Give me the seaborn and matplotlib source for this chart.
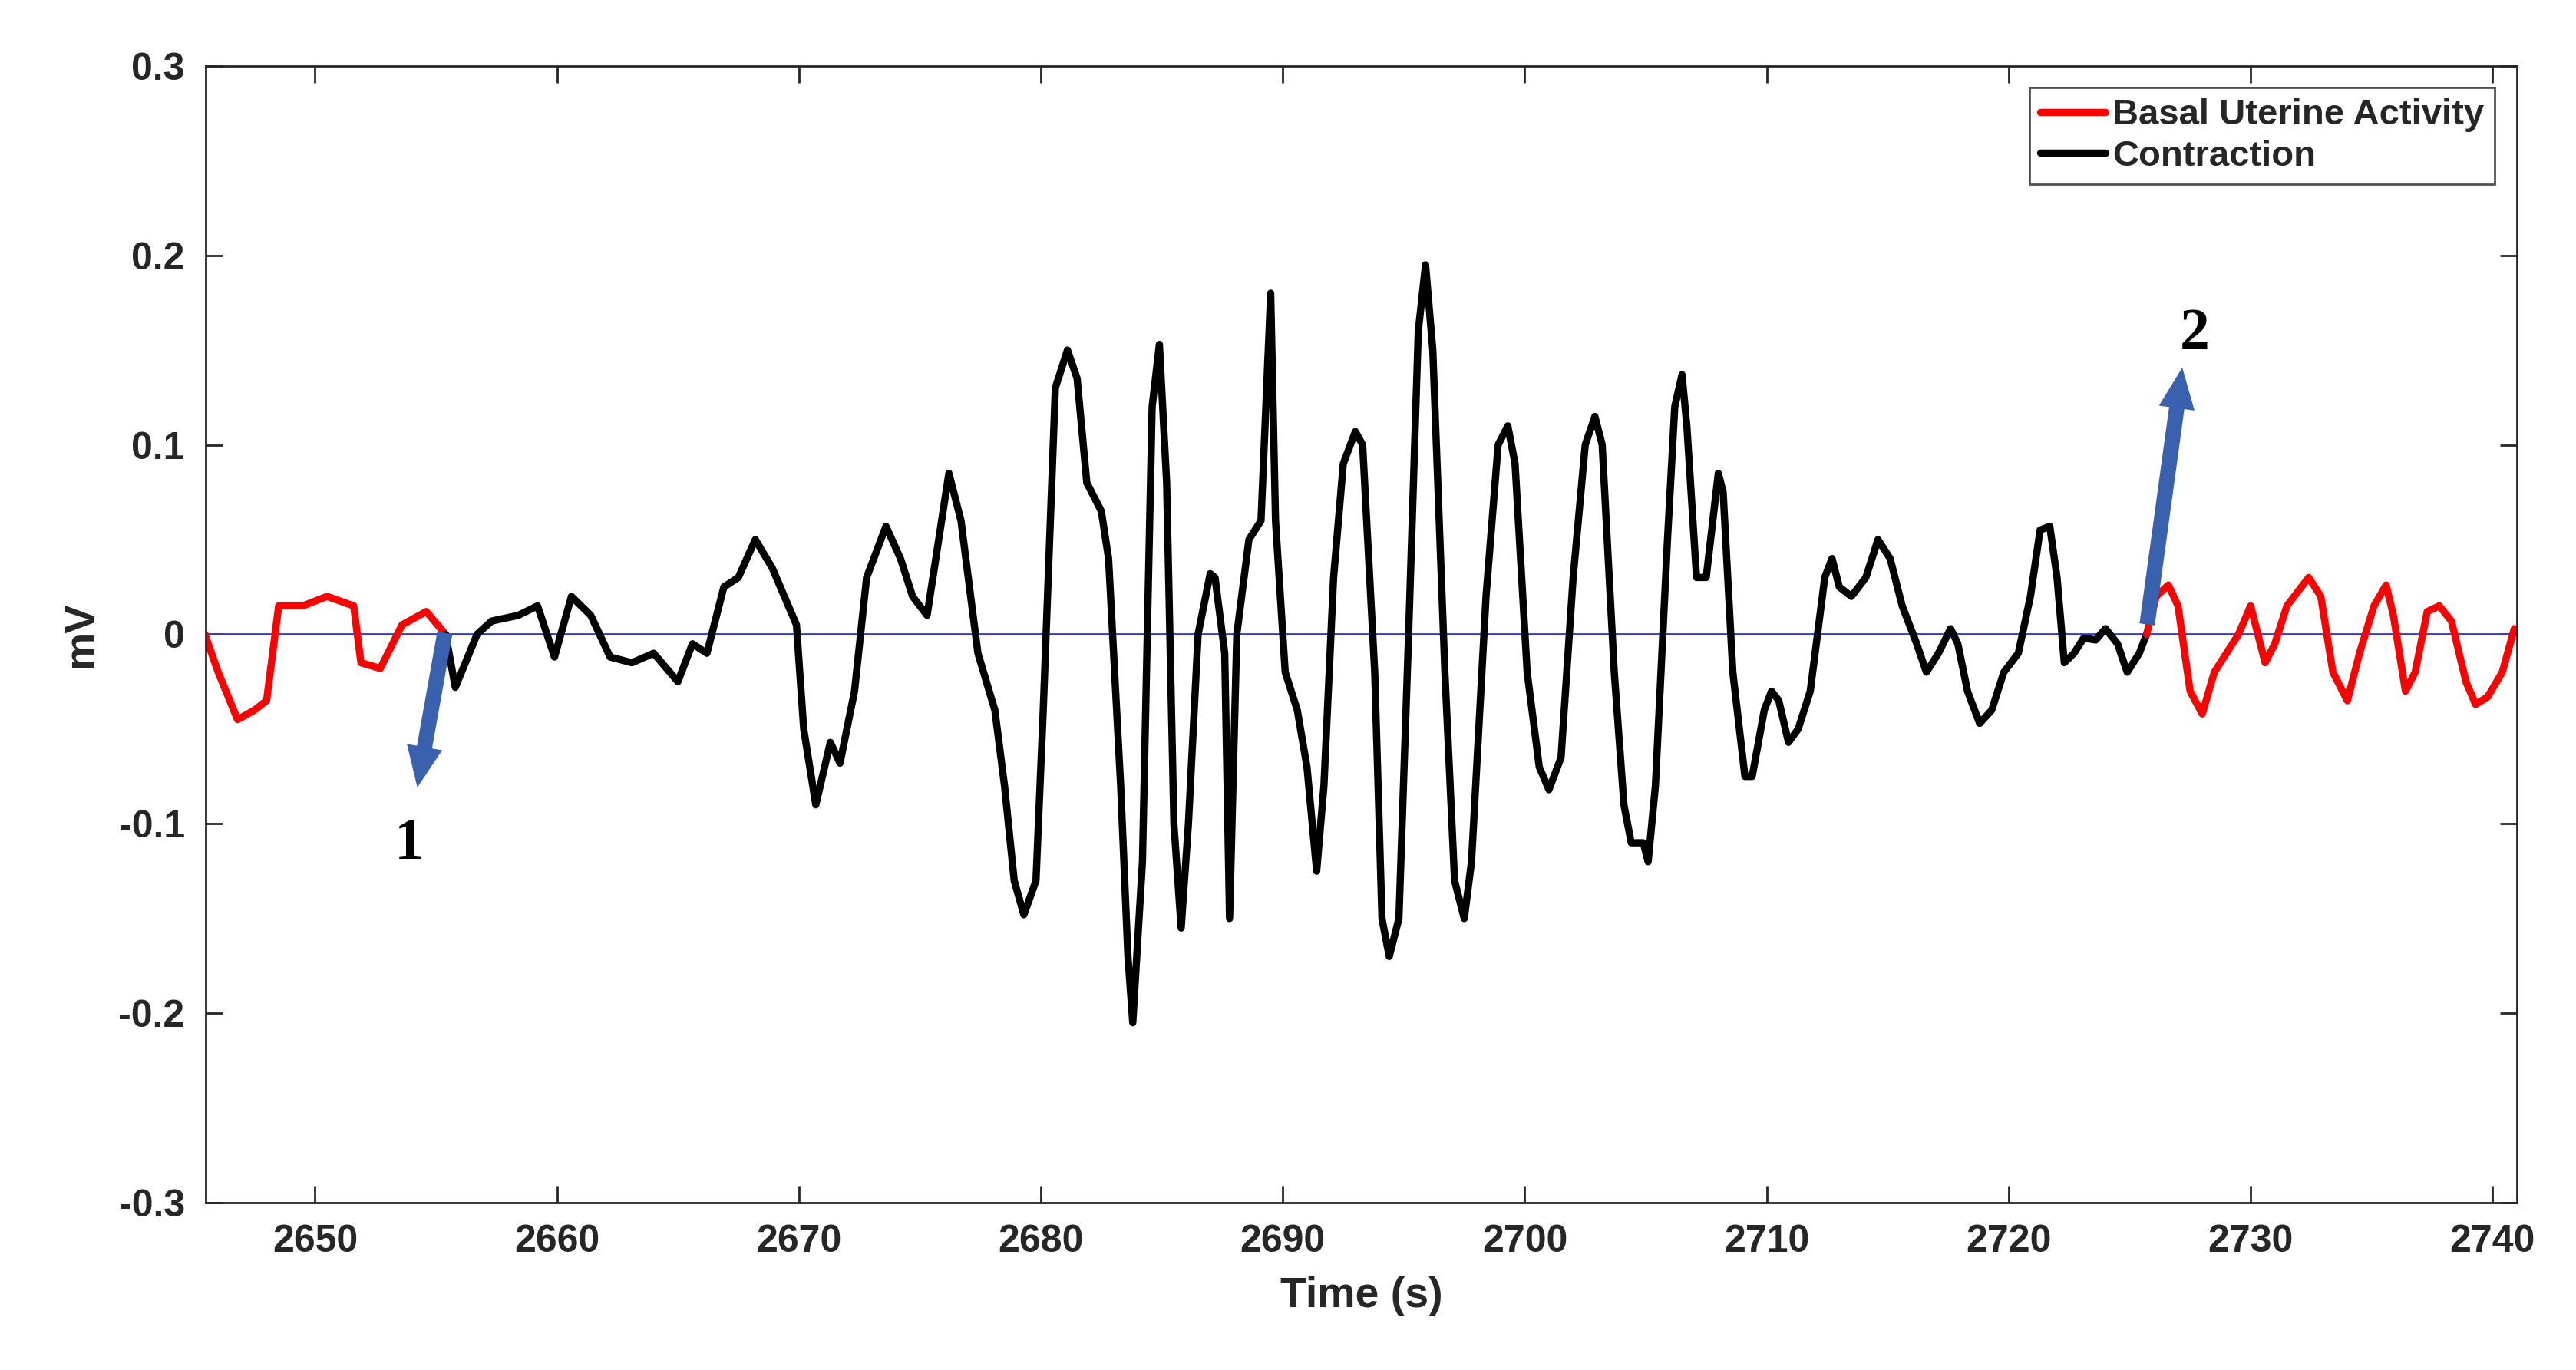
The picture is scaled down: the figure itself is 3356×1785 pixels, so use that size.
import matplotlib
matplotlib.use("Agg")
import matplotlib.pyplot as plt
import seaborn as sns
import pandas as pd

red1_t = [2645.45, 2646.0, 2646.8, 2647.5, 2648.0, 2648.5, 2649.5, 2650.5, 2651.6, 2651.9, 2652.7, 2653.6, 2654.6, 2655.4]
red1_v = [0.0, -0.02, -0.045, -0.04, -0.035, 0.015, 0.015, 0.02, 0.015, -0.015, -0.018, 0.005, 0.012, 0.0]

blk_t = [2655.4, 2655.8, 2656.7, 2657.3, 2658.4, 2659.2, 2659.9, 2660.6, 2661.4, 2662.2, 2663.1, 2664.0, 2665.0, 2665.6,
         2666.2, 2666.9, 2667.5, 2668.2, 2668.9, 2669.9, 2670.2, 2670.7, 2671.3, 2671.7, 2672.3, 2672.8, 2673.6, 2674.2,
         2674.7, 2675.3, 2676.2, 2676.7, 2677.4, 2678.1, 2678.5, 2678.9, 2679.3, 2679.8, 2680.1, 2680.6, 2681.1, 2681.5,
         2681.9, 2682.5, 2682.8, 2683.3, 2683.6, 2683.8, 2684.2, 2684.6, 2684.9, 2685.2, 2685.5, 2685.8, 2686.1, 2686.5,
         2687.0, 2687.2, 2687.6, 2687.8, 2688.1, 2688.6, 2689.1, 2689.5, 2689.7, 2690.1, 2690.6, 2691.0, 2691.4, 2691.7,
         2692.1, 2692.5, 2693.0, 2693.3, 2693.8, 2694.1, 2694.4, 2694.8, 2695.2, 2695.6, 2695.9, 2696.2, 2696.7, 2697.1,
         2697.5, 2697.8, 2698.4, 2698.9, 2699.3, 2699.6, 2700.1, 2700.6, 2701.0, 2701.5, 2702.0, 2702.5, 2702.9, 2703.2,
         2703.7, 2704.1, 2704.4, 2704.9, 2705.1, 2705.4, 2705.9, 2706.2, 2706.5, 2706.7, 2707.1, 2707.5, 2708.0, 2708.2,
         2708.6, 2709.1, 2709.4, 2709.9, 2710.2, 2710.5, 2710.9, 2711.3, 2711.8, 2712.4, 2712.7, 2713.0, 2713.5, 2714.1,
         2714.6, 2715.1, 2715.6, 2716.2, 2716.6, 2717.1, 2717.6, 2717.9, 2718.3, 2718.8, 2719.3, 2719.8, 2720.4, 2720.9,
         2721.3, 2721.7, 2722.0, 2722.3, 2722.7, 2723.1, 2723.6, 2724.0, 2724.5, 2724.9, 2725.4, 2725.7]
blk_v = [0.0, -0.028, 0.0, 0.007, 0.01, 0.015, -0.012, 0.02, 0.01, -0.012, -0.015, -0.01, -0.025, -0.005,
         -0.01, 0.025, 0.03, 0.05, 0.035, 0.005, -0.05, -0.09, -0.057, -0.068, -0.03, 0.03, 0.057, 0.04,
         0.02, 0.01, 0.085, 0.06, -0.01, -0.04, -0.08, -0.13, -0.148, -0.13, -0.04, 0.13, 0.15, 0.135,
         0.08, 0.065, 0.04, -0.08, -0.17, -0.205, -0.12, 0.12, 0.153, 0.08, -0.1, -0.155, -0.1, 0.0,
         0.032, 0.03, -0.01, -0.15, 0.0, 0.05, 0.06, 0.18, 0.06, -0.02, -0.04, -0.07, -0.125, -0.08,
         0.03, 0.09, 0.107, 0.1, -0.02, -0.15, -0.17, -0.15, 0.0, 0.16, 0.195, 0.15, -0.02, -0.13,
         -0.15, -0.12, 0.02, 0.1, 0.11, 0.09, -0.02, -0.07, -0.082, -0.065, 0.03, 0.1, 0.115, 0.1,
         -0.02, -0.09, -0.11, -0.11, -0.12, -0.08, 0.05, 0.12, 0.137, 0.11, 0.03, 0.03, 0.085, 0.075,
         -0.02, -0.075, -0.075, -0.04, -0.03, -0.035, -0.057, -0.05, -0.03, 0.03, 0.04, 0.025, 0.02, 0.03,
         0.05, 0.04, 0.015, -0.005, -0.02, -0.01, 0.003, -0.005, -0.03, -0.047, -0.04, -0.02, -0.01, 0.02,
         0.055, 0.057, 0.03, -0.015, -0.01, -0.002, -0.003, 0.003, -0.005, -0.02, -0.01, 0.0]

red2_t = [2725.7, 2726.1, 2726.6, 2727.0, 2727.5, 2728.0, 2728.5, 2729.0, 2729.5, 2730.0, 2730.6, 2731.0, 2731.5,
          2732.4, 2732.9, 2733.4, 2734.0, 2734.5, 2735.1, 2735.6, 2735.9, 2736.4, 2736.8, 2737.3, 2737.8, 2738.3,
          2738.9, 2739.3, 2739.8, 2740.4, 2740.9]
red2_v = [0.0, 0.02, 0.026, 0.015, -0.03, -0.042, -0.02, -0.01, 0.0, 0.015, -0.015, -0.005, 0.015,
          0.03, 0.02, -0.02, -0.035, -0.01, 0.015, 0.026, 0.01, -0.03, -0.02, 0.012, 0.015, 0.007,
          -0.025, -0.037, -0.033, -0.02, 0.003]

xticks = [2650, 2660, 2670, 2680, 2690, 2700, 2710, 2720, 2730, 2740]
yticks = [-0.3, -0.2, -0.1, 0, 0.1, 0.2, 0.3]
ytick_labels = ["-0.3", "-0.2", "-0.1", "0", "0.1", "0.2", "0.3"]

sns.set_theme(style="white")
plt.rcParams["font.family"] = ["Liberation Sans", "DejaVu Sans"]
plt.rcParams["font.weight"] = "bold"

fig = plt.figure(figsize=(16.78, 8.925), dpi=200)
ax = fig.add_axes([0.08, 0.122, 0.897, 0.83])

ax.axhline(0, color="#3333ff", lw=1.0, zorder=1)
sns.lineplot(x=red1_t, y=red1_v, ax=ax, color="red", lw=3.4, sort=False, label="Basal Uterine Activity")
sns.lineplot(x=blk_t, y=blk_v, ax=ax, color="black", lw=3.4, sort=False, label="Contraction")
sns.lineplot(x=red2_t, y=red2_v, ax=ax, color="red", lw=3.4, sort=False)

ax.set_xlim(2645.5, 2741)
ax.set_ylim(-0.3, 0.3)
ax.set_xticks(xticks)
ax.set_xticklabels([str(t) for t in xticks], fontsize=18, fontweight="bold", color="#262626")
ax.set_yticks(yticks)
ax.set_yticklabels(ytick_labels, fontsize=18, fontweight="bold", color="#262626")
ax.tick_params(direction="in", length=8, width=1, top=True, right=True, bottom=True, left=True, pad=10,
               colors="#262626")
for s in ax.spines.values():
    s.set_color("#262626")
    s.set_linewidth(1)
ax.set_xlabel("Time (s)", fontsize=20, fontweight="bold", color="#262626", labelpad=8)
ax.set_ylabel("mV", fontsize=20, fontweight="bold", color="#262626", labelpad=8)

arrow_color = "#3a61ad"
ax.annotate("", xy=(2654.2, -0.083), xytext=(2655.4, 0.003),
            arrowprops=dict(arrowstyle="simple,head_width=1.4,head_length=1.6,tail_width=0.6",
                            color=arrow_color, lw=0))
ax.annotate("", xy=(2727.2, 0.143), xytext=(2725.7, 0.003),
            arrowprops=dict(arrowstyle="simple,head_width=1.4,head_length=1.6,tail_width=0.6",
                            color=arrow_color, lw=0))
ax.text(2653.9, -0.111, "1", fontsize=28, fontweight="bold", family=["Liberation Serif"],
        ha="center", va="center", color="black")
ax.text(2727.7, 0.158, "2", fontsize=28, fontweight="bold", family=["Liberation Serif"],
        ha="center", va="center", color="black")

leg = ax.legend(loc="upper right", fontsize=17, frameon=True, fancybox=False, borderpad=0.3,
                handlelength=1.8, handletextpad=0.2, borderaxespad=0.6, labelspacing=0.2)
leg.get_frame().set_edgecolor("#262626")
leg.get_frame().set_linewidth(1)
for t in leg.get_texts():
    t.set_fontweight("bold")

fig.savefig("out.png", dpi=200)
